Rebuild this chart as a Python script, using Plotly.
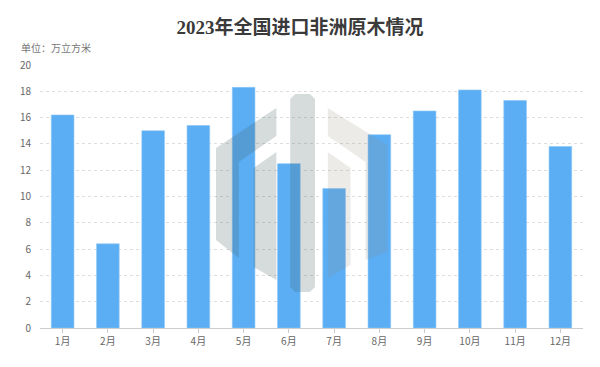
import plotly.graph_objects as go

months = ["1月", "2月", "3月", "4月", "5月", "6月", "7月", "8月", "9月", "10月", "11月", "12月"]
volumes = [16.2, 6.4, 15.0, 15.4, 18.3, 12.5, 10.6, 14.7, 16.5, 18.1, 17.3, 13.8]
y_ticks = [0, 2, 4, 6, 8, 10, 12, 14, 16, 18, 20]

# window geometry (the page body has an 8px default margin, compensate for it)
W, H = 600, 367
OFF = 8
L, R, T, B = 34, 17, 65, 39

fig = go.Figure(go.Bar(
    x=months, y=volumes,
    marker=dict(color="#5BAEF4", line=dict(color="#8cc6f7", width=0.6)),
    hoverinfo="x+y",
))

def px(X):
    return (X - L) / (W - L - R)

def py(Y):
    return (H - B - Y) / (H - T - B)

def path(points):
    return "M " + " L ".join(f"{px(x):.4f},{py(y):.4f}" for x, y in points) + " Z"

dark = "rgba(60,90,90,0.21)"
light = "rgba(140,130,110,0.16)"
wm = [
    ([(273, 108), (212, 148), (212, 240), (235, 258), (235, 162), (273, 136)], dark),
    ([(273, 152), (250, 168), (250, 267), (273, 280)], dark),
    ([(287, 99), (292, 94), (307, 94), (312, 99), (312, 287), (307, 292), (292, 292), (287, 287)], dark),
    ([(325, 108), (385, 145), (385, 252), (363, 260), (363, 162), (325, 136)], light),
    ([(325, 152), (348, 168), (348, 265), (325, 278)], light),
]
shapes = [dict(type="path", xref="paper", yref="paper", path=path(p),
               fillcolor=c, line=dict(width=0), layer="above") for p, c in wm]

fig.update_layout(
    width=W - OFF, height=H - OFF,
    margin=dict(l=L - OFF, r=R, t=T - OFF, b=B),
    paper_bgcolor="white", plot_bgcolor="white",
    bargap=0.5,
    showlegend=False,
    shapes=shapes,
    title=dict(text="<b>2023年全国进口非洲原木情况</b>",
               xref="container", x=(300 - OFF) / (W - OFF), xanchor="center",
               y=1 - (27 - OFF) / (H - OFF), yanchor="middle",
               font=dict(family="Liberation Serif, Noto Sans CJK SC", size=19, color="#3a3a3a")),
    annotations=[dict(text="单位：万立方米", xref="paper", yref="paper",
                      x=px(14), y=py(47), xanchor="left", yanchor="middle",
                      showarrow=False, borderpad=0,
                      font=dict(family="Noto Sans CJK SC", size=10, color="#777777"))],
    font=dict(family="Noto Sans CJK SC, Roboto", size=10, color="#666666"),
)

fig.update_xaxes(
    type="category", categoryorder="array", categoryarray=months,
    showline=True, linecolor="#cccccc", linewidth=1,
    ticks="outside", ticklen=4, tickcolor="#cccccc",
    showgrid=False, tickfont=dict(size=10, color="#666666"),
)
fig.update_yaxes(
    range=[0, 20], tickvals=y_ticks, ticktext=[str(v) for v in y_ticks],
    showgrid=True, gridcolor="#dedede", griddash="3px,3px", gridwidth=1,
    zeroline=False, showline=False, ticks="", ticklabelstandoff=8,
    tickfont=dict(size=10, color="#666666"),
)

fig.write_html("out.html")
